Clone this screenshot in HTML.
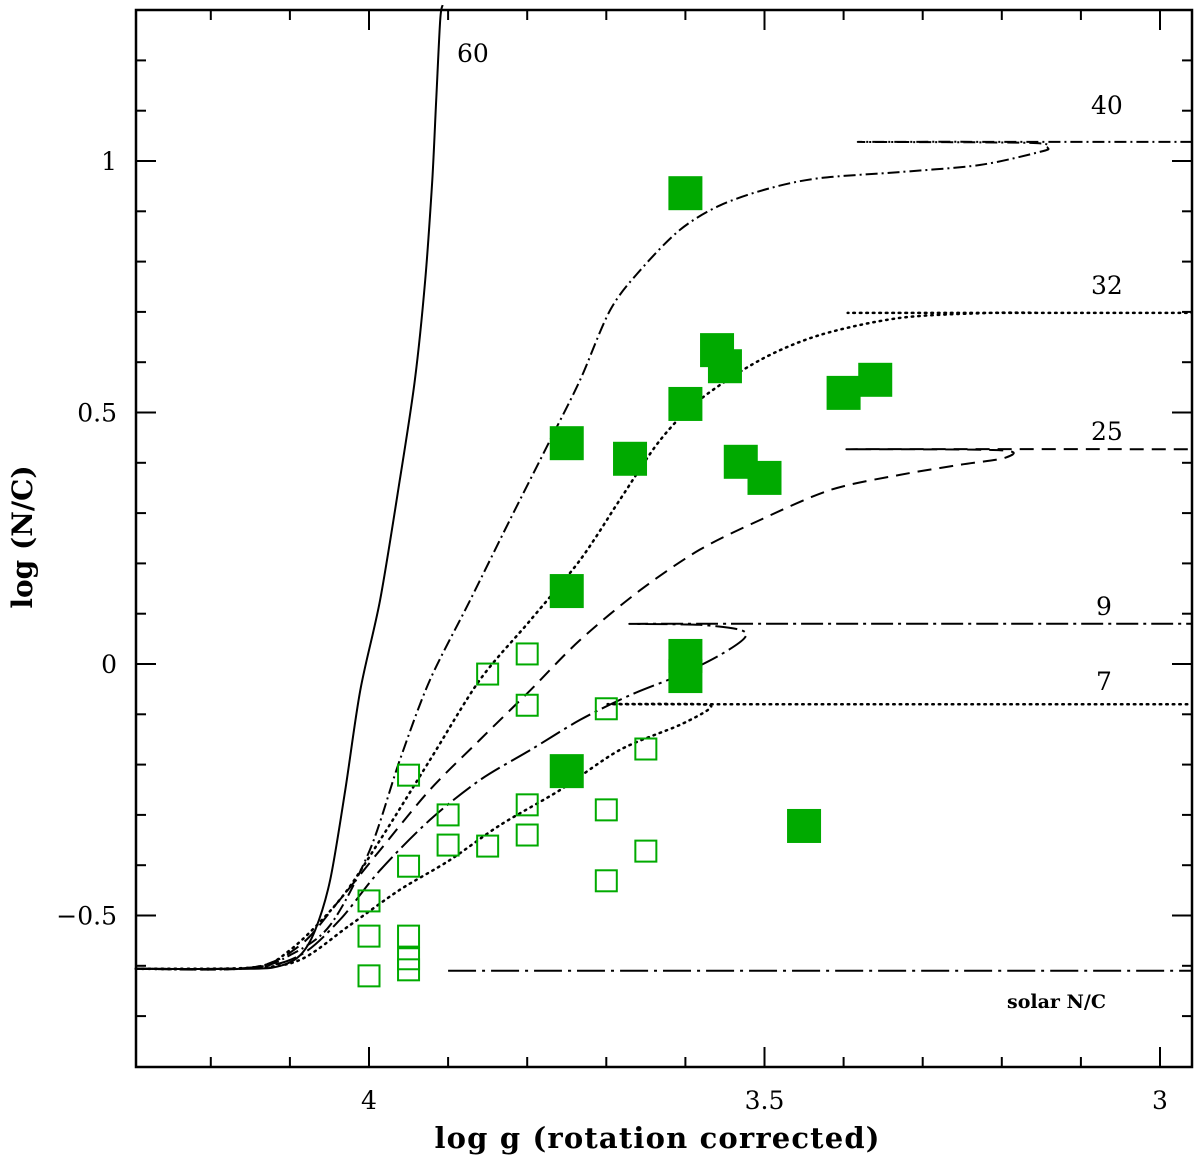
<!DOCTYPE html>
<html><head><meta charset="utf-8">
<style>
html,body{margin:0;padding:0;background:#fff;}
svg{display:block;font-family:"DejaVu Serif","Liberation Serif",serif;}
</style></head>
<body>
<svg id="chart" width="1200" height="1161" viewBox="0 0 1200 1161" xmlns="http://www.w3.org/2000/svg">
<g id="tracks"></g>
<g id="pts"></g>
<g id="axes"></g>
</svg>
<script>
// ---- data ----
const g60=[4.295,4.150,4.112,4.087,4.068,4.049,4.030,4.011,3.986,3.961,3.942,3.929,3.920,3.915,3.910,3.907];
const n60=[-0.606,-0.606,-0.600,-0.579,-0.529,-0.429,-0.250,-0.052,0.127,0.366,0.565,0.763,0.962,1.121,1.280,1.310];
const g40=[4.295,4.150,4.100,4.049,3.999,3.961,3.923,3.872,3.822,3.771,3.733,3.695,3.657,3.607,3.556,3.493,3.430,3.329,3.228,3.152,3.142,3.164,3.379,2.960];
const n40=[-0.606,-0.604,-0.579,-0.519,-0.370,-0.191,-0.032,0.127,0.286,0.445,0.565,0.704,0.783,0.863,0.912,0.946,0.966,0.978,0.992,1.018,1.026,1.036,1.038,1.038];
const g32=[4.295,4.150,4.100,4.037,3.986,3.923,3.860,3.796,3.733,3.683,3.632,3.582,3.506,3.430,3.329,3.215,3.164,3.392,2.960];
const n32=[-0.606,-0.604,-0.569,-0.469,-0.350,-0.191,-0.032,0.087,0.207,0.326,0.445,0.525,0.604,0.654,0.688,0.698,0.698,0.698,0.698];
const g25=[4.295,4.150,4.087,4.037,3.986,3.923,3.860,3.796,3.733,3.657,3.582,3.506,3.417,3.329,3.253,3.196,3.202,3.392,2.960];
const n25=[-0.606,-0.604,-0.559,-0.469,-0.370,-0.250,-0.151,-0.052,0.048,0.147,0.227,0.286,0.346,0.376,0.396,0.410,0.425,0.427,0.427];
const g9=[4.295,4.150,4.087,4.037,3.986,3.923,3.860,3.796,3.733,3.670,3.607,3.556,3.525,3.531,3.582,3.638,2.960];
const n9=[-0.606,-0.604,-0.579,-0.509,-0.410,-0.310,-0.231,-0.171,-0.111,-0.062,-0.022,0.018,0.052,0.068,0.078,0.080,0.080];
const g7=[4.295,4.150,4.087,4.024,3.961,3.898,3.834,3.759,3.683,3.607,3.569,3.582,3.670,2.960];
const n7=[-0.606,-0.604,-0.588,-0.519,-0.449,-0.390,-0.320,-0.251,-0.171,-0.121,-0.088,-0.080,-0.080,-0.080];
const gSolar=[3.9,2.96];
const nSolar=[-0.610,-0.610];
const filledG=[3.60,3.56,3.55,3.60,3.75,3.67,3.53,3.50,3.40,3.36,3.75,3.60,3.60,3.75,3.45];
const filledN=[0.936,0.624,0.592,0.517,0.439,0.408,0.402,0.370,0.539,0.565,0.145,0.016,-0.024,-0.213,-0.322];
const openG=[3.95,3.85,3.80,3.80,3.70,3.65,3.90,3.90,3.85,3.80,3.80,3.70,3.65,3.70,3.95,4.00,4.00,3.95,3.95,3.95,4.00];
const openN=[-0.221,-0.020,0.020,-0.082,-0.089,-0.169,-0.300,-0.360,-0.362,-0.280,-0.340,-0.290,-0.372,-0.431,-0.402,-0.471,-0.541,-0.541,-0.586,-0.608,-0.620];
const xTickVals=[4,3.5,3];
const xTickLabels=["4","3.5","3"];
const yTickVals=[1,0.5,0,-0.5];
const yTickLabels=["1","0.5","0","\u22120.5"];

// ---- axes functions ----
const L=136,R=1192,T=10,B=1067;
const X=g=>369+(4-g)*791;
const Y=n=>664-n*503;
const NS="http://www.w3.org/2000/svg";
function mk(tag,parent){const e=document.createElementNS(NS,tag);parent.appendChild(e);return e;}
const tracks=document.getElementById('tracks'),pts=document.getElementById('pts'),axes=document.getElementById('axes');

function smoothPath(P){
  let d='M'+P[0][0].toFixed(1)+' '+P[0][1].toFixed(1);
  for(let i=0;i<P.length-1;i++){
    const p0=P[Math.max(0,i-1)],p1=P[i],p2=P[i+1],p3=P[Math.min(P.length-1,i+2)];
    const t=0.15;
    const c1=[p1[0]+(p2[0]-p0[0])*t,p1[1]+(p2[1]-p0[1])*t];
    const c2=[p2[0]-(p3[0]-p1[0])*t,p2[1]-(p3[1]-p1[1])*t];
    d+=' C'+c1[0].toFixed(1)+' '+c1[1].toFixed(1)+' '+c2[0].toFixed(1)+' '+c2[1].toFixed(1)+' '+p2[0].toFixed(1)+' '+p2[1].toFixed(1);
  }
  return d;
}
function track(gs,ns,dash,name,label,lx,ly){
  const p=mk('path',tracks);
  
  
  p.setAttribute('d',smoothPath(gs.map((g,i)=>[X(g),Y(ns[i])])));
  p.setAttribute('fill','none');p.setAttribute('stroke','#000');p.setAttribute('stroke-width','2');
  if(dash){p.setAttribute('stroke-dasharray',dash);}
  if(dash==='1.5 5'){p.setAttribute('stroke-linecap','round');p.setAttribute('stroke-width','2.5');}
  if(label){const t=mk('text',tracks);
    
    
    t.setAttribute('x',lx);t.setAttribute('y',ly);t.setAttribute('font-size','25');t.textContent=label;}
}
track(g60,n60,null,'track-60','60',457,62);
track(g40,n40,'12 4 2 4','track-40','40',1091,114);
track(g32,n32,'1.5 5','track-32','32',1091,294);
track(g25,n25,'14 8','track-25','25',1091,440);
track(g9,n9,'22 5 3 5','track-9','9',1096,615);
track(g7,n7,'1.5 5','track-7','7',1096,690);
track(gSolar,nSolar,'28 6 3 6','solar-line',null);
{const t=mk('text',tracks);


t.setAttribute('x',1007);t.setAttribute('y',1008);t.setAttribute('font-size','19');t.setAttribute('font-weight','bold');t.textContent='solar N/C';}

filledG.forEach((g,i)=>{const r=mk('rect',pts);
  
  
  r.setAttribute('x',X(g)-17);r.setAttribute('y',Y(filledN[i])-17);r.setAttribute('width',34);r.setAttribute('height',34);r.setAttribute('fill','#00aa00');});
openG.forEach((g,i)=>{const r=mk('rect',pts);
  
  
  r.setAttribute('x',X(g)-10.5);r.setAttribute('y',Y(openN[i])-10.5);r.setAttribute('width',21);r.setAttribute('height',21);r.setAttribute('fill','none');r.setAttribute('stroke','#00aa00');r.setAttribute('stroke-width','2');});

// frame
{const f=mk('rect',axes);


f.setAttribute('x',L);f.setAttribute('y',T);f.setAttribute('width',R-L);f.setAttribute('height',B-T);f.setAttribute('fill','none');f.setAttribute('stroke','#000');f.setAttribute('stroke-width','2.5');}
function line(x1,y1,x2,y2){const l=mk('line',axes);
  
  
  l.setAttribute('x1',x1);l.setAttribute('y1',y1);l.setAttribute('x2',x2);l.setAttribute('y2',y2);l.setAttribute('stroke','#000');l.setAttribute('stroke-width','2');}
for(let k=0;k<=14;k++){const g=4.3-k*0.1;const x=X(g);if(x<L+2||x>R-2)continue;const major=Math.abs(g*2-Math.round(g*2))<1e-6;const len=major?20:10;line(x,B,x,B-len);line(x,T,x,T+len);}
for(let k=0;k<=22;k++){const n=-0.8+k*0.1;const y=Y(n);if(y<T+2||y>B-2)continue;const major=Math.abs(n*2-Math.round(n*2))<1e-6;const len=major?20:10;line(L,y,L+len,y);line(R,y,R-len,y);}
xTickVals.forEach((v,i)=>{const t=mk('text',axes);
  
  
  t.setAttribute('x',X(v));t.setAttribute('y',1109);t.setAttribute('font-size','25');t.setAttribute('text-anchor','middle');t.textContent=xTickLabels[i];});
yTickVals.forEach((v,i)=>{const t=mk('text',axes);
  
  
  t.setAttribute('x',117);t.setAttribute('y',Y(v)+9);t.setAttribute('font-size','25');t.setAttribute('text-anchor','end');t.textContent=yTickLabels[i];});
{const t=mk('text',axes);


t.setAttribute('x',657);t.setAttribute('y',1148);t.setAttribute('font-size','29');t.setAttribute('font-weight','bold');t.setAttribute('text-anchor','middle');t.setAttribute('textLength','445');t.textContent='log g (rotation corrected)';}
{const t=mk('text',axes);


t.setAttribute('transform','translate(32,537) rotate(-90)');t.setAttribute('font-size','28');t.setAttribute('font-weight','bold');t.setAttribute('text-anchor','middle');t.textContent='log (N/C)';}
</script>
</body></html>
